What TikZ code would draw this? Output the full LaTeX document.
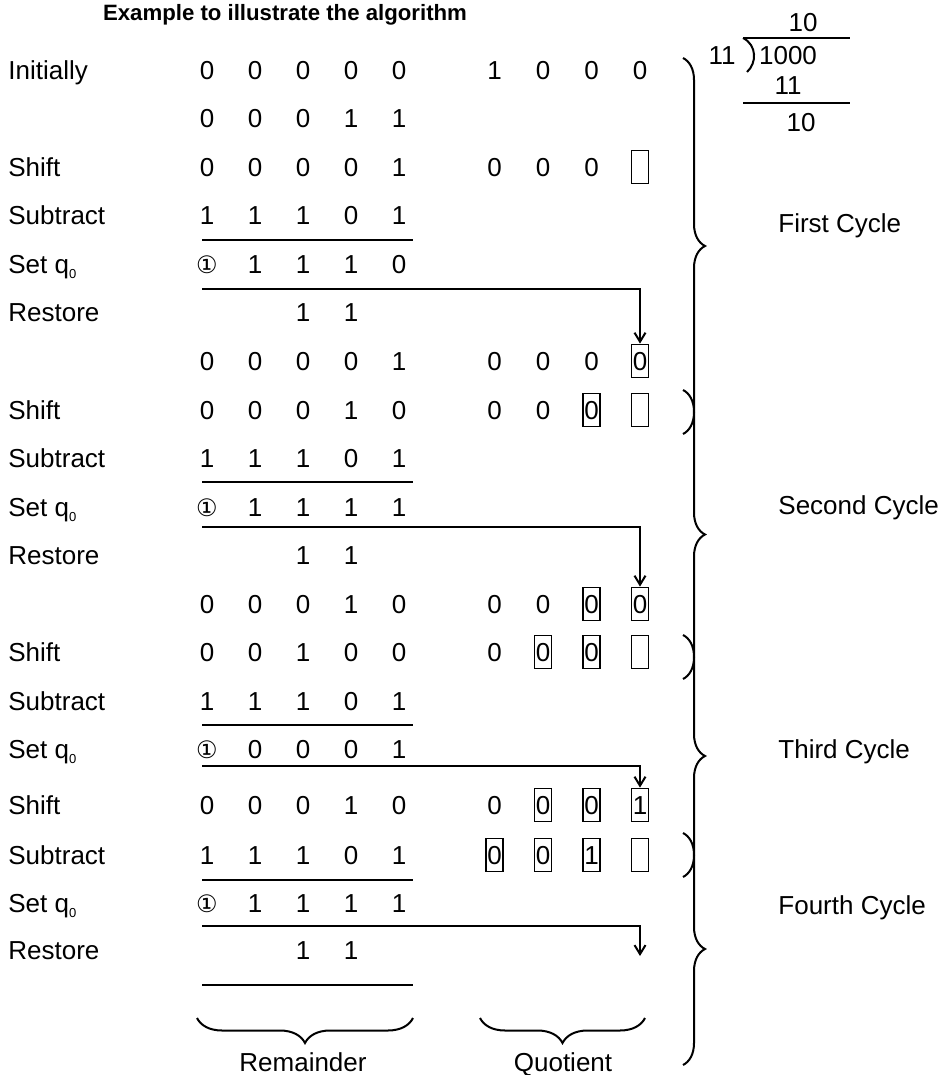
\documentclass[tikz,border=0pt]{standalone}
\usepackage{fontspec}
\setmainfont{Liberation Sans}
\newfontfamily\circfont{DejaVu Sans}
\usetikzlibrary{decorations.pathreplacing,arrows.meta}

\newcommand{\circone}{{\circfont\fontsize{12}{12}\selectfont ①}}
\newcommand{\qnull}{q{\fontsize{6.5}{6.5}\selectfont\raisebox{-2.5pt}{0}}}

\tikzset{
  dig/.style={inner sep=0pt,text height=9.3pt,text depth=0pt},
  lbl/.style={dig,anchor=west},
  qbox/.style={dig,draw,line width=0.9pt,minimum width=8.5pt,minimum height=16.5pt},
  rule/.style={line width=1pt},
  arr/.style={line width=1pt,-{Straight Barb[length=4.5pt,width=5.5pt]}},
  cyc/.style={decorate,decoration={brace,amplitude=11pt},line width=1pt},
  part/.style={decorate,decoration={brace,amplitude=12.5pt},line width=1pt}
}

\begin{document}
\begin{tikzpicture}[x=0.5pt,y=-0.5pt,font=\fontsize{13}{15}\selectfont]
  \useasboundingbox (0,0) rectangle (944,1075);
  \node[font=\fontsize{11.1}{13}\selectfont\bfseries] (title) at (285,15) {Example to illustrate the algorithm};

  % 1000 / 11 worked out in the corner
  \node[dig] (quo) at (803,22) {10};
  \node[dig] (dvs) at (722,55) {11};
  \node[dig] (dvd) at (788,55) {1000};
  \node[dig] (sub) at (788,85) {11};
  \node[dig] (rem) at (801,122) {10};
  \draw[rule] (743,38) -- (850,38);
  \draw[rule] (743,38) .. controls (757,45) and (757,63) .. (747,72);
  \draw[rule] (743,103) -- (850,103);

  % step names
  \node[lbl] (l1) at (8,70) {Initially};
  \node[lbl] (l3) at (8,167) {Shift};
  \node[lbl] (l4) at (8,215) {Subtract};
  \node[lbl] (l5) at (8,264) {Set \qnull};
  \node[lbl] (l6) at (8,312) {Restore};
  \node[lbl] (l8) at (8,410) {Shift};
  \node[lbl] (l9) at (8,458) {Subtract};
  \node[lbl] (l10) at (8,507) {Set \qnull};
  \node[lbl] (l11) at (8,555) {Restore};
  \node[lbl] (l13) at (8,652) {Shift};
  \node[lbl] (l14) at (8,701) {Subtract};
  \node[lbl] (l15) at (8,749) {Set \qnull};
  \node[lbl] (l16) at (8,805) {Shift};
  \node[lbl] (l17) at (8,855) {Subtract};
  \node[lbl] (l18) at (8,903) {Set \qnull};
  \node[lbl] (l19) at (8,950) {Restore};

  % remainder register
  \foreach \d [count=\i] in {0,0,0,0,0} \node[dig] (r1-\i) at (159+48*\i,70) {\d};
  \foreach \d [count=\i] in {0,0,0,1,1} \node[dig] (r2-\i) at (159+48*\i,118) {\d};
  \foreach \d [count=\i] in {0,0,0,0,1} \node[dig] (r3-\i) at (159+48*\i,167) {\d};
  \foreach \d [count=\i] in {1,1,1,0,1} \node[dig] (r4-\i) at (159+48*\i,215) {\d};
  \foreach \d [count=\i] in {\circone,1,1,1,0} \node[dig] (r5-\i) at (159+48*\i,264) {\d};
  \node[dig] (r6-3) at (303,312) {1};
  \node[dig] (r6-4) at (351,312) {1};
  \foreach \d [count=\i] in {0,0,0,0,1} \node[dig] (r7-\i) at (159+48*\i,361) {\d};
  \foreach \d [count=\i] in {0,0,0,1,0} \node[dig] (r8-\i) at (159+48*\i,410) {\d};
  \foreach \d [count=\i] in {1,1,1,0,1} \node[dig] (r9-\i) at (159+48*\i,458) {\d};
  \foreach \d [count=\i] in {\circone,1,1,1,1} \node[dig] (r10-\i) at (159+48*\i,507) {\d};
  \node[dig] (r11-3) at (303,555) {1};
  \node[dig] (r11-4) at (351,555) {1};
  \foreach \d [count=\i] in {0,0,0,1,0} \node[dig] (r12-\i) at (159+48*\i,604) {\d};
  \foreach \d [count=\i] in {0,0,1,0,0} \node[dig] (r13-\i) at (159+48*\i,652) {\d};
  \foreach \d [count=\i] in {1,1,1,0,1} \node[dig] (r14-\i) at (159+48*\i,701) {\d};
  \foreach \d [count=\i] in {\circone,0,0,0,1} \node[dig] (r15-\i) at (159+48*\i,749) {\d};
  \foreach \d [count=\i] in {0,0,0,1,0} \node[dig] (r16-\i) at (159+48*\i,805) {\d};
  \foreach \d [count=\i] in {1,1,1,0,1} \node[dig] (r17-\i) at (159+48*\i,855) {\d};
  \foreach \d [count=\i] in {\circone,1,1,1,1} \node[dig] (r18-\i) at (159+48*\i,903) {\d};
  \node[dig] (r19-3) at (303,950) {1};
  \node[dig] (r19-4) at (351,950) {1};

  % quotient register, boxed bits are the ones shifted in
  \foreach \d/\s [count=\i] in {1/dig,0/dig,0/dig,0/dig} \node[\s] (q1-\i) at (446+48.5*\i,70) {\d};
  \foreach \d/\s [count=\i] in {0/dig,0/dig,0/dig,{}/qbox} \node[\s] (q3-\i) at (446+48.5*\i,167) {\d};
  \foreach \d/\s [count=\i] in {0/dig,0/dig,0/dig,0/qbox} \node[\s] (q7-\i) at (446+48.5*\i,361) {\d};
  \foreach \d/\s [count=\i] in {0/dig,0/dig,0/qbox,{}/qbox} \node[\s] (q8-\i) at (446+48.5*\i,410) {\d};
  \foreach \d/\s [count=\i] in {0/dig,0/dig,0/qbox,0/qbox} \node[\s] (q12-\i) at (446+48.5*\i,604) {\d};
  \foreach \d/\s [count=\i] in {0/dig,0/qbox,0/qbox,{}/qbox} \node[\s] (q13-\i) at (446+48.5*\i,652) {\d};
  \foreach \d/\s [count=\i] in {0/dig,0/qbox,0/qbox,1/qbox} \node[\s] (q16-\i) at (446+48.5*\i,805) {\d};
  \foreach \d/\s [count=\i] in {0/qbox,0/qbox,1/qbox,{}/qbox} \node[\s] (q17-\i) at (446+48.5*\i,855) {\d};

  % subtraction rules
  \draw[rule] (202,240) -- (413,240);
  \draw[rule] (202,482) -- (413,482);
  \draw[rule] (202,725) -- (413,725);
  \draw[rule] (202,880) -- (413,880);
  \draw[rule] (202,985) -- (413,985);

  % q0 carried over to the quotient
  \coordinate (a1) at (202,289);
  \coordinate (a2) at (202,527);
  \coordinate (a3) at (202,766);
  \coordinate (a4) at (202,926);
  \coordinate (a4e) at (640,956);
  \draw[arr] (a1) -| (q7-4.north);
  \draw[arr] (a2) -| (q12-4.north);
  \draw[arr] (a3) -| (q16-4.north);
  \draw[arr] (a4) -| (a4e);

  % cycles
  \coordinate (b1s) at (683,58);  \coordinate (b1e) at (683,434);
  \coordinate (b2s) at (683,390); \coordinate (b2e) at (683,679);
  \coordinate (b3s) at (683,635); \coordinate (b3e) at (683,877);
  \coordinate (b4s) at (683,833); \coordinate (b4e) at (683,1065);
  \draw[cyc] (b1s) -- (b1e);
  \draw[cyc] (b2s) -- (b2e);
  \draw[cyc] (b3s) -- (b3e);
  \draw[cyc] (b4s) -- (b4e);
  \node[lbl] (c1) at (778,223) {First Cycle};
  \node[lbl] (c2) at (778,505) {Second Cycle};
  \node[lbl] (c3) at (778,749) {Third Cycle};
  \node[lbl] (c4) at (778,905) {Fourth Cycle};

  % registers
  \coordinate (rs) at (413,1018); \coordinate (re) at (197,1018);
  \coordinate (qs) at (645,1018); \coordinate (qe) at (480,1018);
  \draw[part] (rs) -- (re);
  \draw[part] (qs) -- (qe);
  \node[dig] (rlbl) at (303,1062) {Remainder};
  \node[dig] (qlbl) at (563,1062) {Quotient};
\end{tikzpicture}
\end{document}
